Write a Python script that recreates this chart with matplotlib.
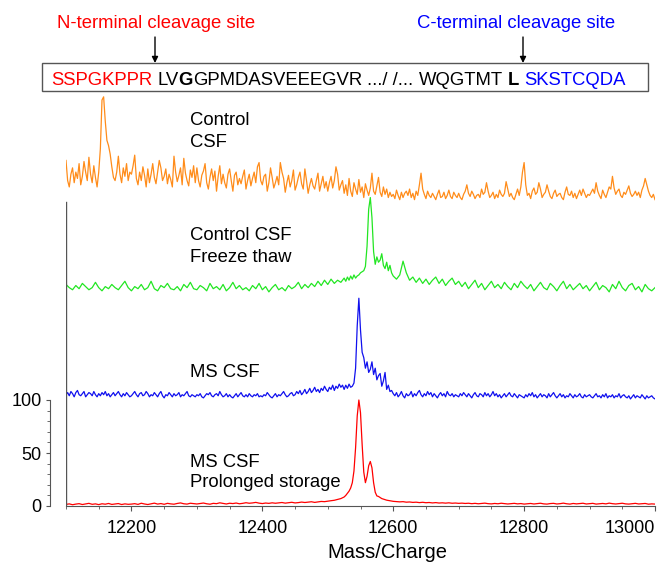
import numpy as np
import matplotlib
matplotlib.use("Agg")
import matplotlib.pyplot as plt
from matplotlib.patches import Rectangle

plt.rcParams['font.family'] = ['Liberation Sans', 'DejaVu Sans']

W, H = 663, 562

# m/z grids: 5 Da steps with 2.5 Da across the main peak, and a 2.5 Da grid
mz = np.concatenate([np.arange(12100, 12526, 5),
                     np.arange(12527.5, 12600.1, 2.5),
                     np.arange(12605, 13001, 5)])
mz_fine = np.arange(12100, 13000.1, 2.5)

# intensities (relative to each trace's own baseline)
ms_storage = (
    # 12100 - 12525
    [1.5, 2, 1.2, 1.8, 2.2, 1.4, 1.9, 2.5, 1.6, 2, 1.3, 2.1, 1.7, 2.4, 1.5, 1.9, 2.3, 1.4, 2, 1.6,
     1.8, 2.2, 1.5, 2.6, 1.9, 1.4, 2.1, 2.7, 1.8, 2.3, 1.6, 2.5, 2, 1.7, 2.4, 2.9, 2.1, 1.8, 2.6, 2.2,
     1.9, 2.4, 2.8, 2.1, 1.7, 2.5, 2.2, 3, 2.4, 1.9, 2.6, 2.3, 2.8, 2.1, 2.5, 3.1, 2.6, 2.9, 3.4, 2.7,
     2.3, 2.8, 2.5, 3, 2.6, 2.9, 3.3, 2.7, 3.1, 3.5, 2.9, 3.2, 3.7, 3.3, 3.6, 4, 3.4, 3.9, 4.3, 4.1,
     4.6, 5, 5.4, 6.2, 7, 8.5]
    # 12527.5 - 12600
    + [10, 12, 14, 17, 22, 33, 55, 85, 100, 88, 58, 32, 22, 28, 38, 42, 36, 22, 13, 9.5,
       9, 8, 7, 6.5, 6, 5.5, 5.2, 5, 4.6, 4.4]
    # 12605 - 13000
    + [4.2, 3.9, 4.1, 3.6, 3.8, 3.4, 3.6, 3.2, 3.5, 3.1, 3.3, 2.9, 3.2, 2.8, 3, 2.7, 3, 2.6, 2.8, 2.5,
       2.7, 2.4, 2.6, 2.2, 2.5, 2.1, 2.4, 2.7, 2.2, 2, 2.4, 2.1, 2.6, 2.3, 1.9, 2.2, 2.5, 2, 2.3, 1.8,
       2.1, 2.4, 1.9, 2.2, 2.6, 2, 1.8, 2.3, 2.5, 1.9, 2.2, 2.7, 2.1, 1.8, 2.4, 2, 2.3, 2.6, 1.9, 2.2,
       2.5, 1.8, 2.1, 2.4, 2, 2.7, 2.2, 1.9, 2.3, 2.6, 2, 1.8, 2.2, 2.5, 1.9, 2.1, 2.4, 1.7, 2, 1.8]
)

control_freeze = (
    [9, 6, 4, 8, 5, 10, 7, 4, 6, 11, 6, 3, 7, 5, 9, 6, 4, 8, 12, 6,
     3, 7, 5, 9, 4, 6, 12, 5, 3, 8, 6, 10, 5, 4, 7, 3, 9, 6, 11, 5,
     4, 8, 6, 3, 10, 5, 7, 4, 9, 3, 6, 11, 5, 8, 4, 6, 3, 8, 5, 10,
     4, 7, 2, 6, 9, 4, 6, 3, 8, 5, 7, 11, 5, 9, 6, 10, 7, 12, 8, 13,
     9, 14, 10, 13, 11, 15]
    + [12, 16, 13, 17, 14, 18, 15, 17, 18, 20, 21, 22, 26, 45, 80, 91, 72, 40, 28, 35,
       30, 32, 38, 27, 24, 30, 22, 27, 20, 17]
    + [14, 18, 31, 20, 13, 16, 11, 15, 10, 14, 9, 13, 16, 10, 14, 8, 12, 15, 9, 12,
       7, 11, 5, 9, 13, 6, 10, 4, 8, 12, 6, 9, 5, 11, 7, 4, 10, 6, 12, 8,
       5, 9, 3, 7, 11, 6, 4, 10, 7, 3, 8, 12, 5, 9, 4, 7, 10, 5, 8, 3,
       7, 11, 4, 8, 6, 2, 9, 5, 12, 6, 3, 8, 10, 4, 7, 2, 9, 5, 3, 6]
)

# these two are on the 2.5 Da grid, one row per 100 Da
ms_csf = (
    [5, 7, 4, 8, 6, 3, 7, 9, 5, 4, 6, 8, 3, 5, 7, 6, 4, 8, 5, 3,
     6, 4, 7, 5, 8, 4, 6, 3, 5, 7, 4, 6, 8, 5, 3, 6, 4, 7, 5, 3]
    + [4, 6, 8, 5, 3, 6, 7, 4, 5, 8, 6, 3, 5, 4, 7, 5, 3, 6, 8, 4,
       2, 5, 4, 7, 5, 3, 6, 4, 5, 7, 3, 5, 4, 6, 8, 4, 3, 5, 4, 3]
    + [5, 4, 6, 3, 2, 4, 6, 5, 7, 4, 3, 5, 6, 4, 8, 5, 3, 4, 6, 3,
       5, 3, 2, 4, 6, 3, 5, 7, 4, 3, 5, 3, 6, 4, 3, 5, 4, 6, 3, 4]
    + [3, 5, 4, 7, 5, 3, 2, 4, 6, 3, 5, 4, 6, 8, 5, 3, 4, 6, 7, 4,
       5, 8, 6, 9, 5, 7, 10, 6, 8, 11, 7, 9, 12, 8, 10, 7, 11, 9, 13, 10]
    + [8, 12, 10, 14, 9, 13, 11, 15, 12, 14, 10, 14, 11, 15, 12, 13, 16, 30, 70, 96,
       66, 45, 40, 30, 36, 26, 29, 36, 24, 30, 19, 23, 25, 13, 18, 26, 10, 14, 8, 9]
    + [6, 4, 7, 3, 5, 8, 4, 2, 6, 4, 5, 8, 3, 6, 4, 7, 9, 5, 3, 6,
       4, 8, 5, 7, 3, 6, 4, 2, 5, 7, 4, 6, 3, 8, 5, 4, 6, 3, 5, 4]
    + [3, 6, 4, 7, 5, 3, 6, 4, 2, 5, 7, 4, 3, 6, 5, 3, 7, 4, 6, 3,
       5, 8, 4, 6, 3, 5, 2, 4, 6, 3, 5, 7, 4, 3, 6, 4, 2, 5, 4, 3]
    + [2, 5, 3, 6, 4, 7, 3, 5, 2, 4, 6, 3, 5, 4, 2, 6, 3, 5, 7, 4,
       2, 4, 6, 3, 5, 2, 4, 3, 6, 4, 2, 5, 3, 4, 6, 3, 2, 5, 3, 4]
    + [5, 3, 2, 4, 6, 3, 4, 2, 5, 3, 6, 2, 4, 3, 5, 2, 4, 3, 6, 2,
       4, 5, 3, 2, 4, 1, 3, 5, 2, 4, 3, 2, 5, 3, 1, 4, 2, 3, 4, 2]
    + [1]
)

control_csf = (
    [41, 22, 16, 28, 34, 20, 30, 24, 38, 18, 26, 40, 30, 22, 44, 28, 20, 36, 25, 16,
     30, 52, 98, 101, 78, 60, 55, 47, 35, 25, 22, 30, 45, 28, 20, 34, 26, 38, 22, 30]
    + [28, 36, 46, 24, 18, 30, 22, 35, 27, 16, 33, 20, 28, 38, 25, 19, 30, 41, 34, 22,
       26, 33, 19, 28, 23, 16, 45, 30, 21, 27, 34, 18, 43, 29, 22, 17, 32, 25, 36, 20]
    + [34, 22, 16, 27, 31, 38, 20, 14, 25, 33, 22, 31, 12, 26, 36, 19, 28, 20, 15, 28,
       33, 22, 12, 27, 30, 18, 24, 19, 26, 32, 14, 22, 28, 17, 24, 30, 20, 35, 39, 22]
    + [18, 26, 28, 12, 20, 34, 25, 15, 20, 26, 18, 39, 30, 24, 11, 20, 27, 16, 22, 32,
       13, 18, 25, 30, 19, 14, 33, 22, 10, 18, 24, 17, 14, 22, 29, 12, 19, 26, 15, 21]
    + [12, 20, 26, 15, 22, 35, 28, 13, 18, 22, 10, 18, 8, 24, 12, 7, 20, 14, 9, 23,
       11, 16, 6, 19, 13, 8, 15, 29, 12, 9, 17, 25, 11, 7, 16, 9, 14, 6, 11, 7]
    + [9, 5, 13, 8, 4, 11, 6, 10, 12, 8, 14, 6, 10, 4, 12, 8, 18, 29, 14, 9,
       5, 12, 8, 6, 10, 7, 4, 9, 13, 6, 7, 11, 5, 8, 13, 7, 5, 11, 8, 6]
    + [10, 6, 4, 9, 12, 18, 10, 7, 12, 9, 5, 8, 9, 6, 14, 9, 11, 20, 12, 6,
       8, 11, 5, 9, 6, 13, 9, 7, 10, 21, 14, 7, 10, 6, 4, 9, 14, 8, 16, 30]
    + [39, 18, 8, 10, 5, 12, 15, 9, 11, 20, 14, 6, 9, 11, 18, 12, 7, 5, 10, 13,
       7, 9, 10, 6, 4, 11, 16, 9, 8, 12, 6, 10, 5, 9, 13, 8, 14, 10, 6, 9]
    + [8, 11, 14, 10, 20, 12, 8, 5, 13, 9, 6, 11, 16, 14, 26, 15, 9, 12, 14, 8,
       6, 11, 9, 13, 17, 10, 7, 9, 12, 8, 11, 6, 13, 17, 24, 18, 12, 8, 6, 9]
    + [4]
)

traces = [
    (mz, ms_storage, 0, '#FF0000'),
    (mz_fine, ms_csf, 100, '#1010EE'),
    (mz, control_freeze, 200, '#22E622'),
    (mz_fine, control_csf, 285, '#FF8C1A'),
]

xticks = [12200, 12400, 12600, 12800, 13000]
xtick_labels = ['12200', '12400', '12600', '12800', '13000']
yticks = [0, 50, 100]

trace_labels = [
    (["Control", "CSF"], [125, 147]),
    (["Control CSF", "Freeze thaw"], [240, 262]),
    (["MS CSF"], [377]),
    (["MS CSF", "Prolonged storage"], [467, 487]),
]

fig = plt.figure(figsize=(W / 100, H / 100), dpi=100)

# main spectrum axes
ax = fig.add_axes([66 / W, 56 / H, 589 / W, 506 / H])
ax.set_facecolor('none')
for xs, vals, off, col in traces:
    assert len(vals) == len(xs)
    ax.plot(xs, np.array(vals) + off, color=col, lw=0.9)

ax.set_xlim(12100, 13000)
ax.set_ylim(0, 506 / 1.06)
ax.spines['top'].set_visible(False)
ax.spines['right'].set_visible(False)
ax.spines['bottom'].set_color('#555555')
ax.spines['left'].set_color('#555555')
ax.spines['left'].set_position(('outward', 11.5))
ax.spines['left'].set_bounds(0, 100)
ax.axvline(12100, ymin=0, ymax=287 / (506 / 1.06), color='#555555', lw=1)

ax.set_xticks(xticks)
ax.set_xticklabels(xtick_labels)
ax.set_xticks(np.arange(12100, 13001, 50), minor=True)
ax.set_yticks(yticks)
ax.set_yticklabels([str(v) for v in yticks])
ax.set_yticks(np.arange(0, 101, 10), minor=True)
ax.tick_params(axis='both', which='major', labelsize=13, color='#555555')
ax.tick_params(axis='x', which='major', length=3.6, pad=6.5)
ax.tick_params(axis='x', which='minor', length=2.2, color='#555555')
ax.tick_params(axis='y', which='major', length=3, pad=3)
ax.tick_params(axis='y', which='minor', length=2, color='#555555')
ax.xaxis.get_major_ticks()[-1].label1.set_horizontalalignment('right')

# overlay in pixel coordinates for the annotations
ov = fig.add_axes([0, 0, 1, 1])
ov.set_xlim(0, W)
ov.set_ylim(H, 0)
ov.axis('off')
ov.patch.set_alpha(0)

fs = 13.3
for lines, ys in trace_labels:
    for s, y in zip(lines, ys):
        ov.text(190, y, s, fontsize=fs, va='baseline', ha='left')

ov.text(387, 558, "Mass/Charge", fontsize=14.5, va='baseline', ha='center')

ov.text(57, 28, "N-terminal cleavage site", color='#FF0000', fontsize=fs, va='baseline')
ov.text(417, 28, "C-terminal cleavage site", color='#0000FF', fontsize=fs, va='baseline')
for xa in (155, 523):
    ov.annotate('', xy=(xa, 63), xytext=(xa, 37),
                arrowprops=dict(arrowstyle='-|>', color='black', lw=1,
                                mutation_scale=9, shrinkA=0, shrinkB=0))

ov.add_patch(Rectangle((42, 63), 606, 28, fill=False, edgecolor='#555555', lw=1))

seq_parts = [
    ("SSPGKPPR", '#FF0000', 'normal', 0),
    ("LV", 'black', 'normal', 1),
    ("G", 'black', 'bold', 0),
    ("GPMDASVEEEGVR", 'black', 'normal', 0),
    (".../ /...", 'black', 'normal', 1),
    ("WQGTMT", 'black', 'normal', 1),
    ("L", 'black', 'bold', 1),
    ("SKSTCQDA", '#0000FF', 'normal', 1),
]
renderer = fig.canvas.get_renderer()
space = 0.278 * fs * 100 / 72
x = 51
for s, col, wt, gap in seq_parts:
    x += gap * space
    t = ov.text(x, 85, s, color=col, fontweight=wt, fontsize=fs, va='baseline', ha='left')
    x = t.get_window_extent(renderer).x1

fig.savefig('out.png', dpi=100)
